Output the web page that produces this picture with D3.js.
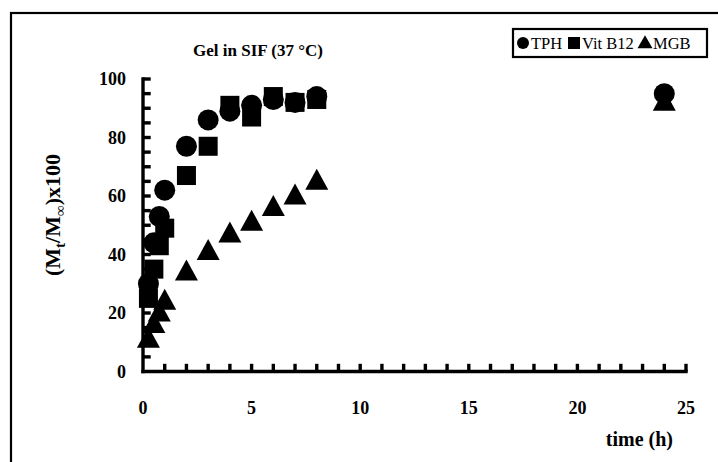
<!DOCTYPE html>
<html lang="en">
<head>
<meta charset="utf-8">
<title>Gel in SIF</title>
<script src="https://cdn.jsdelivr.net/npm/d3@7"></script>
<style>
  body { margin: 0; background: #fff; }
  text { font-family: "Times New Roman", "Liberation Serif", "Nimbus Roman", serif; fill: #000; }
</style>
</head>
<body>
<script>
// values
var times   = [0.25, 0.5, 0.75, 1, 2, 3, 4, 5, 6, 7, 8, 24];
var tph     = [30, 44, 53, 62, 77, 86, 89, 91, 93, 92, 94, 95];
var vitB12  = [25, 35, 43, 49, 67, 77, 91, 87, 94, 92, 93];   // no 24 h point visible
var mgb     = [11, 16, 20, 24, 34, 41, 47, 51, 56, 60, 65, 92];
var xTicks  = [0, 5, 10, 15, 20, 25];
var yTicks  = [0, 20, 40, 60, 80, 100];
var seriesNames = ["TPH", "Vit B12", "MGB"];

var W = 718, H = 462;
var svg = d3.select("body").append("svg").attr("width", W).attr("height", H);

// outer frame, runs off the right and bottom edges
svg.append("rect").attr("x", 11).attr("y", 13).attr("width", 720).attr("height", 460)
  .attr("fill", "none").attr("stroke", "#000").attr("stroke-width", 2.2);

var x = d3.scaleLinear().domain([0, 25]).range([143, 686]);
var y = d3.scaleLinear().domain([0, 100]).range([371.5, 79]);

// axis pieces built the same way as the markers: a translated <g> holding a filled shape
var lw = 3.4, tl = 6;
var axisParts = [
  { tx: x(0), ty: y(0), w: x(25) - x(0) + lw, h: lw, ox: -lw / 2, oy: -lw / 2 },
  { tx: x(0), ty: y(100), w: lw, h: y(0) - y(100) + lw, ox: -lw / 2, oy: -lw / 2 }
];
d3.range(1, 26).forEach(function (t) {
  axisParts.push({ tx: x(t), ty: y(0), w: lw, h: tl + lw / 2, ox: -lw / 2, oy: -tl - lw / 2 });
});
d3.range(5, 101, 5).forEach(function (v) {
  axisParts.push({ tx: x(0), ty: y(v), w: tl + lw / 2, h: lw, ox: 0, oy: -lw / 2 });
});
svg.append("g").selectAll("g").data(axisParts).enter().append("g")
  .attr("transform", function (d) { return "translate(" + d.tx + "," + d.ty + ")"; })
  .each(function (d) {
    d3.select(this).append("path")
      .attr("d", "M" + d.ox + "," + d.oy + "h" + d.w + "v" + d.h + "h" + (-d.w) + "Z")
      .attr("fill", "#000");
  });

svg.append("g").selectAll("text").data(xTicks).enter().append("text")
  .attr("x", function (d) { return x(d); }).attr("y", 414)
  .attr("text-anchor", "middle").attr("font-size", 18).attr("font-weight", "bold")
  .text(function (d) { return d; });
svg.append("g").selectAll("text").data(yTicks).enter().append("text")
  .attr("x", 126).attr("y", function (d) { return y(d) + 6; })
  .attr("text-anchor", "end").attr("font-size", 18).attr("font-weight", "bold")
  .text(function (d) { return d; });

svg.append("text").attr("x", 673).attr("y", 446).attr("text-anchor", "end")
  .attr("font-size", 20).attr("font-weight", "bold").text("time (h)");

var yl = svg.append("text").attr("transform", "translate(60,215) rotate(-90)")
  .attr("text-anchor", "middle").attr("font-size", 22).attr("font-weight", "bold");
yl.append("tspan").text("(M");
yl.append("tspan").attr("font-size", 15).attr("dy", 5).text("t");
yl.append("tspan").attr("dy", -5).text("/M");
yl.append("tspan").attr("font-size", 15).attr("dy", 5).text("\u221E");
yl.append("tspan").attr("dy", -5).text(")x100");

svg.append("text").attr("x", 258).attr("y", 56).attr("text-anchor", "middle")
  .attr("font-size", 17).attr("font-weight", "bold").text("Gel in SIF (37 \u00B0C)");

// markers
function triPath(w, h) {
  return "M0," + (-h * 0.6) + "L" + (w / 2) + "," + (h * 0.4) + "L" + (-w / 2) + "," + (h * 0.4) + "Z";
}
var shapes = [
  function (g) { return g.append("circle").attr("r", 10.5); },
  function (g) { return g.append("rect").attr("x", -9.5).attr("y", -9.5).attr("width", 19).attr("height", 19); },
  function (g) { return g.append("path").attr("d", triPath(23, 21)); }
];
var sizesSmall = [
  function (g) { return g.append("circle").attr("r", 6); },
  function (g) { return g.append("rect").attr("x", -6).attr("y", -6).attr("width", 12).attr("height", 12); },
  function (g) { return g.append("path").attr("d", triPath(15, 13)); }
];

[tph, vitB12, mgb].forEach(function (vals, i) {
  svg.append("g").selectAll("g").data(vals).enter().append("g")
    .attr("transform", function (d, j) { return "translate(" + x(times[j]) + "," + y(d) + ")"; })
    .each(function () { shapes[i](d3.select(this)).attr("fill", "#000"); });
});

// legend
var leg = svg.append("g");
leg.append("rect").attr("x", 513).attr("y", 29).attr("width", 194).attr("height", 28)
  .attr("fill", "#fff").attr("stroke", "#000").attr("stroke-width", 2.2);
var legX = [523, 574, 645];
seriesNames.forEach(function (n, i) {
  var g = leg.append("g").attr("transform", "translate(" + legX[i] + ",43)");
  sizesSmall[i](g).attr("fill", "#000");
  leg.append("text").attr("x", legX[i] + 8).attr("y", 48.5).attr("font-size", 16.5).text(n);
});
</script>
</body>
</html>
